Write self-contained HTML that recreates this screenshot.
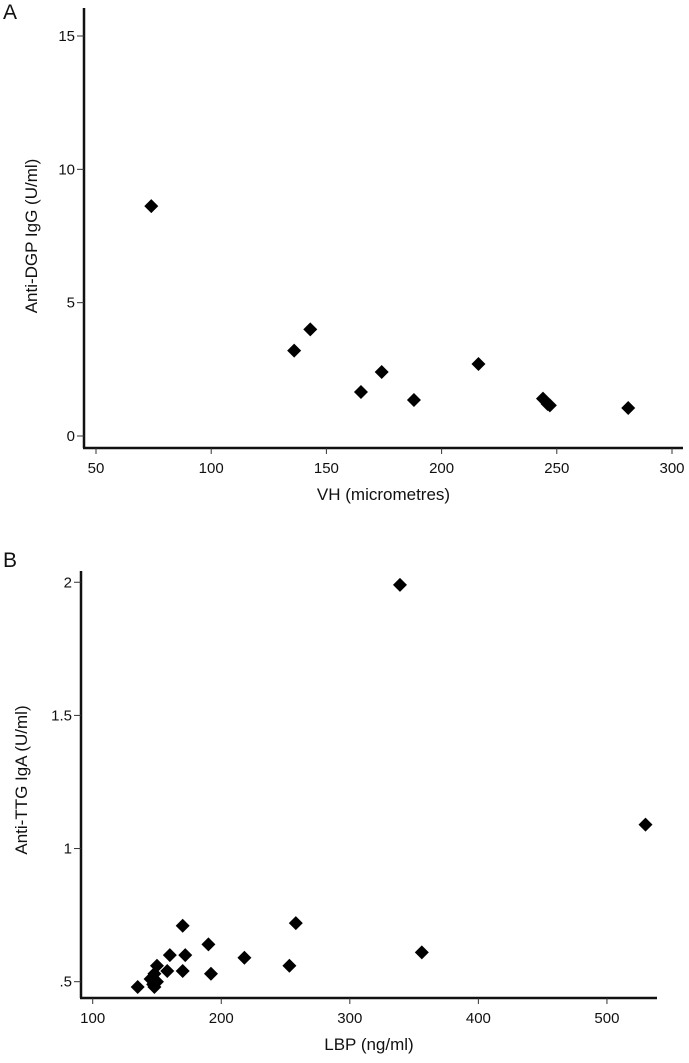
<!DOCTYPE html>
<html><head><meta charset="utf-8"><style>
html,body{margin:0;padding:0;background:#fff;}
svg text{font-family:"Liberation Sans",Arial,sans-serif;fill:#111;}
</style></head><body>
<svg id="chart" width="689" height="1058" viewBox="0 0 689 1058" xmlns="http://www.w3.org/2000/svg">
<text x="3" y="19" font-size="21">A</text>
<text x="3" y="567" font-size="21">B</text>
<g id="pa"></g>
<g id="pb"></g>
</svg>
<script>
const aXTicks=[50,100,150,200,250,300];
const aYTicks=[0,5,10,15];
const aYTickLabels=["0","5","10","15"];
const aX=[74,136,143,165,174,188,216,244,246,247,281];
const aY=[8.62,3.2,4.0,1.65,2.4,1.35,2.7,1.4,1.2,1.15,1.05];
const bXTicks=[100,200,300,400,500];
const bYTicks=[0.5,1,1.5,2];
const bYTickLabels=[".5","1","1.5","2"];
const bX=[339,530,356,258,253,218,190,192,170,172,170,160,158,150,148,145,147,150,135,148];
const bY=[1.99,1.09,0.61,0.72,0.56,0.59,0.64,0.53,0.71,0.60,0.54,0.60,0.54,0.56,0.53,0.51,0.49,0.50,0.48,0.48];

const NS="http://www.w3.org/2000/svg";
function mk(parent,tag,attrs){const e=document.createElementNS(NS,tag);for(const k in attrs)e.setAttribute(k,attrs[k]);parent.appendChild(e);return e;}

function panel(g,o){
  const sx=v=>o.x0+(v-o.xv0)*o.xs;
  const sy=v=>o.y0-(v-o.yv0)*o.ys;
  let e=mk(g,'line',{x1:o.ax,y1:o.ytop,x2:o.ax,y2:o.ay,stroke:'#111','stroke-width':2.5});
  
  
  e=mk(g,'line',{x1:o.ax-1,y1:o.ay,x2:o.xend,y2:o.ay,stroke:'#111','stroke-width':2.5});
  
  
  o.xt.forEach(v=>{
    const x=sx(v);
    let t=mk(g,'line',{x1:x,y1:o.ay,x2:x,y2:o.ay+6,stroke:'#333','stroke-width':1});
    
    
    t=mk(g,'text',{x:x,y:o.ay+25,'font-size':15,'text-anchor':'middle'});
    t.textContent=String(v);
    
    
  });
  o.yt.forEach((v,i)=>{
    const y=sy(v);
    let t=mk(g,'line',{x1:o.ax-7,y1:y,x2:o.ax,y2:y,stroke:'#333','stroke-width':1});
    
    
    t=mk(g,'text',{x:o.ax-9,y:y+5,'font-size':15,'text-anchor':'end'});
    t.textContent=o.ytl[i];
    
    
  });
  let t=mk(g,'text',{x:(o.ax+o.xend)/2,y:o.ay+52,'font-size':17,'text-anchor':'middle'});
  t.textContent=o.xtitle;
  
  
  t=mk(g,'text',{x:0,y:0,'font-size':17,'text-anchor':'middle',transform:`translate(${o.ylx},${o.yly}) rotate(-90)`});
  t.textContent=o.ytitle;
  
  
  o.px.forEach((v,i)=>{
    const x=sx(v),y=sy(o.py[i]),r=7;
    const p=mk(g,'polygon',{points:`${x},${y-r} ${x+r},${y} ${x},${y+r} ${x-r},${y}`,fill:'#000'});
    
    
  });
}
panel(document.getElementById('pa'),{x0:96,xv0:50,xs:115.2/50,y0:436,yv0:0,ys:400/15,ax:84,ay:448,ytop:8,xend:683,
  xt:aXTicks,yt:aYTicks,ytl:aYTickLabels,px:aX,py:aY,xtitle:'VH (micrometres)',ytitle:'Anti-DGP IgG (U/ml)',ylx:37,yly:236});
panel(document.getElementById('pb'),{x0:92.7,xv0:100,xs:1.2856,y0:981.7,yv0:0.5,ys:266.3,ax:81,ay:998,ytop:571,xend:657,
  xt:bXTicks,yt:bYTicks,ytl:bYTickLabels,px:bX,py:bY,xtitle:'LBP (ng/ml)',ytitle:'Anti-TTG IgA (U/ml)',ylx:27,yly:780});
</script>
</body></html>
